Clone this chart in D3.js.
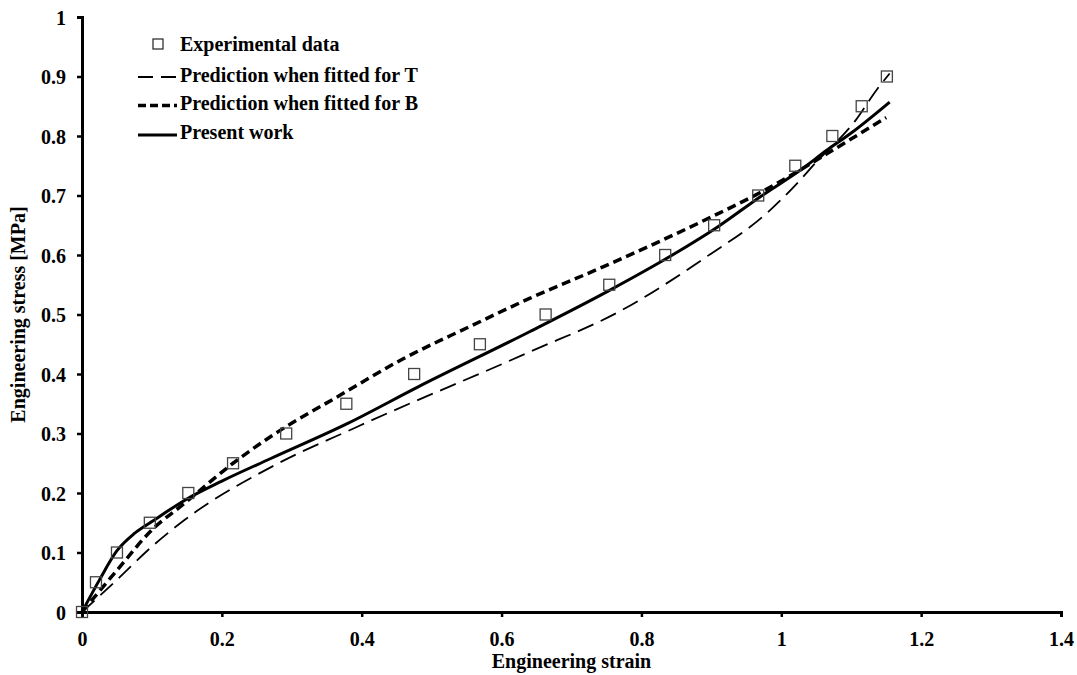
<!DOCTYPE html>
<html><head><meta charset="utf-8">
<script src="https://cdn.jsdelivr.net/npm/d3@7"></script>
<style>body{margin:0;background:#fff}svg{display:block}svg text{font-family:"Liberation Serif","Times New Roman","DejaVu Serif",serif !important;font-weight:bold;fill:#000}</style>
</head><body><svg id="c" width="1077" height="675"></svg>
<script>
const xTicks = [0, 0.2, 0.4, 0.6, 0.8, 1, 1.2, 1.4];
const yTicks = [0, 0.1, 0.2, 0.3, 0.4, 0.5, 0.6, 0.7, 0.8, 0.9, 1];
const xTickLabels = ["0", "0.2", "0.4", "0.6", "0.8", "1", "1.2", "1.4"];
const yTickLabels = ["0", "0.1", "0.2", "0.3", "0.4", "0.5", "0.6", "0.7", "0.8", "0.9", "1"];

const expStrain = [0, 0.02, 0.05, 0.097, 0.152, 0.216, 0.292, 0.378, 0.475, 0.569, 0.663, 0.754, 0.834, 0.904, 0.967, 1.02, 1.073, 1.115, 1.151];
const expStress = [0, 0.05, 0.1, 0.15, 0.2, 0.25, 0.3, 0.35, 0.4, 0.45, 0.5, 0.55, 0.6, 0.65, 0.7, 0.75, 0.8, 0.85, 0.9];

const tStrain = [0, 0.05, 0.1, 0.147, 0.276, 0.393, 0.64, 0.77, 0.893, 0.979, 1.027, 1.046, 1.108, 1.136, 1.155];
const tStress = [0, 0.054, 0.11, 0.155, 0.247, 0.311, 0.437, 0.506, 0.597, 0.67, 0.726, 0.751, 0.829, 0.877, 0.905];

const bStrain = [0, 0.05, 0.1, 0.147, 0.216, 0.27, 0.37, 0.46, 0.555, 0.64, 0.745, 0.9, 0.97, 1.03, 1.065, 1.15];
const bStress = [0, 0.07, 0.138, 0.183, 0.25, 0.295, 0.365, 0.426, 0.48, 0.527, 0.58, 0.664, 0.705, 0.745, 0.77, 0.831];

const pStrain = [0, 0.025, 0.05, 0.075, 0.1, 0.15, 0.2, 0.27, 0.38, 0.48, 0.64, 0.755, 0.84, 0.91, 0.97, 1.03, 1.065, 1.1, 1.155];
const pStress = [0, 0.054, 0.103, 0.132, 0.152, 0.19, 0.22, 0.258, 0.317, 0.378, 0.471, 0.541, 0.597, 0.648, 0.698, 0.745, 0.776, 0.805, 0.857];

const legendLabels = ["Experimental data", "Prediction when fitted for T", "Prediction when fitted for B", "Present work"];

const FONT = '"Liberation Serif","Times New Roman","DejaVu Serif",serif';
const svg = d3.select("#c");
const x = d3.scaleLinear().domain([0, 1.4]).range([82, 1061]);
const y = d3.scaleLinear().domain([0, 1]).range([612, 17]);

// axes
const xAxis = d3.axisBottom(x).tickValues(xTicks).tickFormat((d,i)=>xTickLabels[i]).tickSize(5).tickPadding(15);
const yAxis = d3.axisLeft(y).tickValues(yTicks).tickFormat((d,i)=>yTickLabels[i]).tickSize(5).tickPadding(11);
const gx = svg.append("g").attr("transform", `translate(0,${y(0)})`).call(xAxis);
const gy = svg.append("g").attr("transform", `translate(${x(0)},0)`).call(yAxis);
[gx, gy].forEach(g => {
  g.attr("font-family", FONT).attr("font-size", 20);
  g.select(".domain").attr("stroke", "#000").attr("stroke-width", 3);
  g.selectAll(".tick line").attr("stroke", "#000").attr("stroke-width", 2.5);
  g.selectAll(".tick text").attr("fill", "#000");
});
gy.selectAll(".tick text").attr("dy", "0.35em");

svg.append("text").attr("x", (x(0)+x(1.4))/2).attr("y", 668).attr("text-anchor", "middle").attr("font-size", 20).text("Engineering strain");
svg.append("text").attr("transform", `translate(25,${(y(0)+y(1))/2}) rotate(-90)`).attr("text-anchor", "middle").attr("font-size", 20).text("Engineering stress [MPa]");

const line = d3.line().x(d=>x(d[0])).y(d=>y(d[1])).curve(d3.curveMonotoneX);
const series = [
  {xs: tStrain, ys: tStress, w: 1.8, dash: "17,8"},
  {xs: bStrain, ys: bStress, w: 3.5, dash: "9,5"},
  {xs: pStrain, ys: pStress, w: 3, dash: null}
];
series.forEach(s => {
  const p = svg.append("path").datum(d3.zip(s.xs, s.ys)).attr("d", line)
    .attr("fill", "none").attr("stroke", "#000").attr("stroke-width", s.w);
  if (s.dash) p.attr("stroke-dasharray", s.dash);
});

const sq = 11;
svg.append("g").selectAll("rect").data(d3.zip(expStrain, expStress)).join("rect")
  .attr("x", d=>x(d[0])-sq/2).attr("y", d=>y(d[1])-sq/2).attr("width", sq).attr("height", sq)
  .attr("fill", "none").attr("stroke", "#444").attr("stroke-width", 1.3);

// legend
const lg = svg.append("g");
lg.append("rect").attr("x", 153).attr("y", 39).attr("width", 10).attr("height", 10).attr("fill", "none").attr("stroke", "#333").attr("stroke-width", 1.3);
const lineYs = [null, 77, 105.5, 135];
const baseYs = [51, 82, 110, 139];
const lstyles = [null, {w:1.8, dash:"15,8"}, {w:3.5, dash:"8,4"}, {w:3, dash:null}];
legendLabels.forEach((t,i) => {
  lg.append("text").attr("x", 180).attr("y", baseYs[i]).attr("font-size", 20).text(t);
  if (i>0) {
    const l = lg.append("line").attr("x1", 138).attr("x2", 177).attr("y1", lineYs[i]).attr("y2", lineYs[i])
      .attr("stroke", "#000").attr("stroke-width", lstyles[i].w);
    if (lstyles[i].dash) l.attr("stroke-dasharray", lstyles[i].dash);
  }
});
</script></body></html>
